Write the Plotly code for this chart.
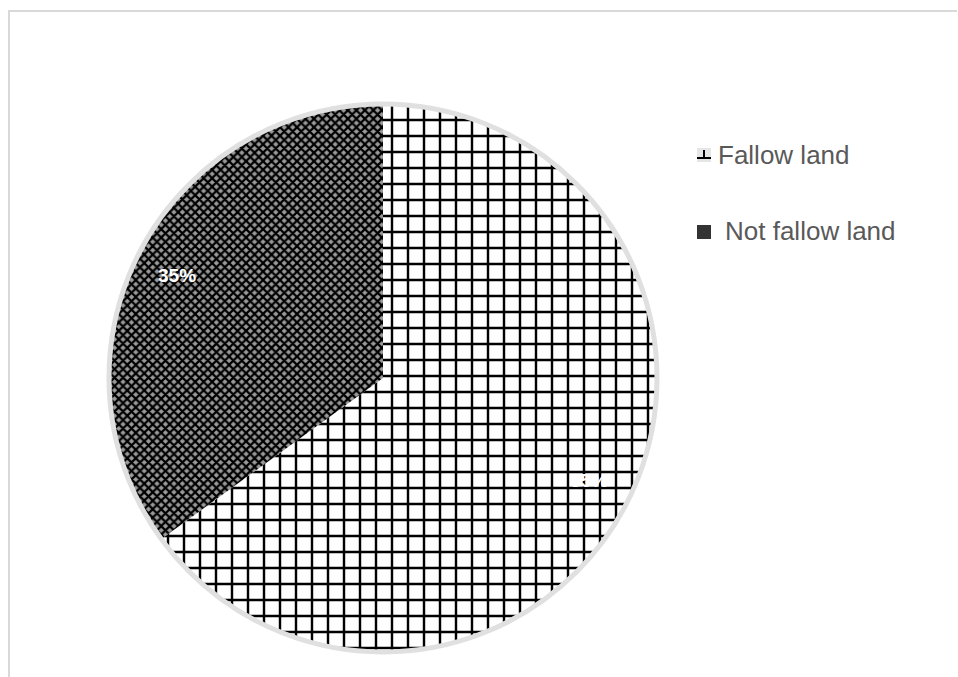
import math
import plotly.graph_objects as go

# ---- data ----
labels = ["Fallow land", "Not fallow land"]
values = [65, 35]
pct_text = ["65%", "35%"]

W, H = 958, 677
CX, CY, R = 383, 378, 274  # pie centre / radius in pixels (from top-left)

dom_x = [(CX - R) / W, (CX + R) / W]
dom_y = [(H - CY - R) / H, (H - CY + R) / H]

fig = go.Figure()
fig.add_trace(go.Pie(
    labels=labels,
    values=values,
    sort=False,
    direction="clockwise",
    rotation=0,
    textinfo="none",
    hoverinfo="label+percent",
    showlegend=False,
    domain=dict(x=dom_x, y=dom_y),
    marker=dict(
        colors=["white", "#8c8c8c"],
        line=dict(width=0),
        pattern=dict(
            shape=["+", "x"],
            fgcolor=["black", "black"],
            bgcolor=["white", "#9a9a9a"],
            fgopacity=1,
            size=[16, 6],
            solidity=[0.28, 0.6],
            fillmode="replace",
        ),
    ),
))

# light grey outer ring
fig.add_shape(type="circle", xref="paper", yref="paper",
              x0=dom_x[0], x1=dom_x[1], y0=dom_y[0], y1=dom_y[1],
              line=dict(color="#e0e0e0", width=5), layer="above")

# percentage labels at slice mid-angles
total = sum(values)
start = 0.0
for v, t in zip(values, pct_text):
    mid = start + v / total * 360 / 2
    start += v / total * 360
    a = math.radians(mid)
    px = CX + 0.845 * R * math.sin(a)
    py = (H - CY) + 0.82 * R * math.cos(a)
    fig.add_annotation(x=px / W, y=py / H, xref="paper", yref="paper",
                       xanchor="center", yanchor="middle",
                       text="<b>%s</b>" % t, showarrow=False,
                       font=dict(color="white", size=19, family="Liberation Sans"))

# legend (drawn manually to match spacing)
leg_x = [716, 723]
leg_y = [155, 231]
for i, lab in enumerate(labels):
    fig.add_annotation(x=leg_x[i] / W, y=(H - leg_y[i]) / H, xref="paper", yref="paper",
                       text=lab, showarrow=False, xanchor="left", yanchor="middle",
                       font=dict(color="#595959", size=26, family="Liberation Sans"))

# legend markers
y0 = H - 162
fig.add_shape(type="rect", xref="paper", yref="paper",
              x0=697 / W, x1=711 / W, y0=y0 / H, y1=(y0 + 14) / H,
              fillcolor="#e6e6e6", line=dict(width=0))
fig.add_shape(type="line", xref="paper", yref="paper",
              x0=697 / W, x1=711 / W, y0=(y0 + 4) / H, y1=(y0 + 4) / H,
              line=dict(color="black", width=2))
fig.add_shape(type="line", xref="paper", yref="paper",
              x0=704 / W, x1=704 / W, y0=(y0 + 4) / H, y1=(y0 + 12) / H,
              line=dict(color="black", width=2))
y1 = H - 239
fig.add_shape(type="rect", xref="paper", yref="paper",
              x0=697 / W, x1=711 / W, y0=y1 / H, y1=(y1 + 14) / H,
              fillcolor="#333333", line=dict(width=0))

# frame lines (top and left)
fig.add_shape(type="line", xref="paper", yref="paper",
              x0=8 / W, x1=957 / W, y0=(H - 11) / H, y1=(H - 11) / H,
              line=dict(color="#d9d9d9", width=2))
fig.add_shape(type="line", xref="paper", yref="paper",
              x0=9 / W, x1=9 / W, y0=0, y1=(H - 10) / H,
              line=dict(color="#d9d9d9", width=2))

fig.update_layout(
    width=W, height=H,
    margin=dict(l=0, r=0, t=0, b=0),
    paper_bgcolor="white",
    plot_bgcolor="white",
    font=dict(family="Liberation Sans"),
)

fig.write_html("out.html")
